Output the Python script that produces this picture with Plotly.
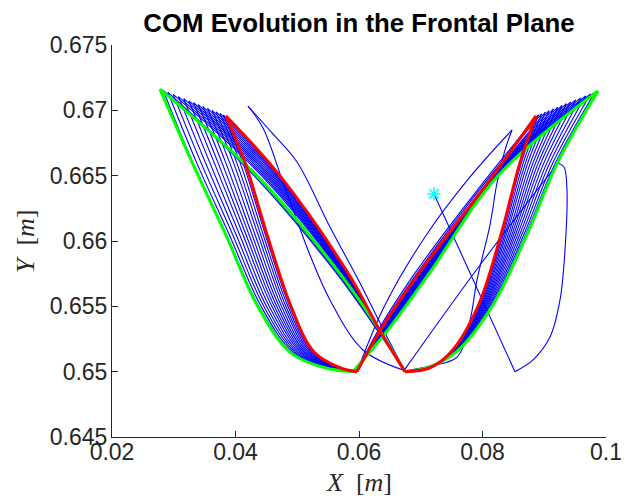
import plotly.graph_objects as go

# y levels where the curved (swing) and the straight (diagonal) parts are sampled
curve_y = [0.6660, 0.6605, 0.6550, 0.6515, 0.6503]
diag_y = [0.6650, 0.6575, 0.6530]
bottom_y = 0.6500

# green cycle (outermost)
green_tip_l = [0.02777, 0.67163]
green_left = [0.03300, 0.03840, 0.04360, 0.04883, 0.05449]
green_bl = 0.05900
green_bs = [0.04348, 0.05692, 0.06356]
green_tip_r = [0.09871, 0.67148]
green_right = [0.09215, 0.08721, 0.08154, 0.07571, 0.07101]
green_br = 0.06745
green_fs = [0.08251, 0.07134, 0.06437]

# red cycle (innermost)
red_tip_l = [0.03846, 0.66957]
red_left = [0.04154, 0.04510, 0.04899, 0.05271, 0.05692]
red_bl = 0.05968
red_bs = [0.04717, 0.05827, 0.06356]
red_tip_r = [0.08866, 0.66957]
red_right = [0.08607, 0.08300, 0.07927, 0.07490, 0.07150]
red_br = 0.06745
red_fs = [0.08170, 0.06965, 0.06324]

# blue cycles between them
blue_tip_l_x = [0.03803, 0.03750, 0.03686, 0.03622, 0.03547, 0.03472, 0.03397,
                0.03322, 0.03247, 0.03162, 0.03076, 0.02991, 0.02905, 0.02831]
blue_tip_l_y = [0.66965, 0.66976, 0.66988, 0.67000, 0.67015, 0.67029, 0.67044,
                0.67058, 0.67072, 0.67089, 0.67105, 0.67122, 0.67138, 0.67153]
blue_left = [
    [0.04118, 0.04482, 0.04877, 0.05256, 0.05682],
    [0.04074, 0.04447, 0.04849, 0.05236, 0.05670],
    [0.04020, 0.04406, 0.04816, 0.05213, 0.05656],
    [0.03967, 0.04364, 0.04783, 0.05190, 0.05641],
    [0.03905, 0.04315, 0.04745, 0.05162, 0.05624],
    [0.03842, 0.04266, 0.04706, 0.05135, 0.05607],
    [0.03780, 0.04218, 0.04668, 0.05108, 0.05590],
    [0.03717, 0.04169, 0.04629, 0.05081, 0.05573],
    [0.03655, 0.04120, 0.04590, 0.05054, 0.05556],
    [0.03584, 0.04065, 0.04546, 0.05023, 0.05537],
    [0.03513, 0.04009, 0.04502, 0.04992, 0.05517],
    [0.03441, 0.03953, 0.04458, 0.04961, 0.05498],
    [0.03370, 0.03898, 0.04414, 0.04930, 0.05478],
    [0.03308, 0.03849, 0.04376, 0.04902, 0.05461],
]
blue_bl = [0.05967, 0.05964, 0.05960, 0.05955, 0.05950, 0.05946, 0.05941,
           0.05936, 0.05931, 0.05925, 0.05920, 0.05914, 0.05908, 0.05904]
blue_bs = [
    [0.04702, 0.05822, 0.06356],
    [0.04684, 0.05815, 0.06350],
    [0.04662, 0.05807, 0.06356],
    [0.04640, 0.05799, 0.06350],
    [0.04614, 0.05789, 0.06345],
    [0.04588, 0.05780, 0.06356],
    [0.04562, 0.05770, 0.06350],
    [0.04536, 0.05761, 0.06345],
    [0.04510, 0.05751, 0.06356],
    [0.04481, 0.05741, 0.06350],
    [0.04451, 0.05730, 0.06345],
    [0.04422, 0.05719, 0.06340],
    [0.04330, 0.05660, 0.06330],
    [0.04300, 0.05640, 0.06320],
]
blue_br = [0.06745, 0.06745, 0.06748, 0.06745, 0.06742, 0.06745, 0.06748,
           0.06745, 0.06742, 0.06745, 0.06748, 0.06745, 0.06742, 0.06745]
blue_tip_r_x = [0.08906, 0.08956, 0.09017, 0.09077, 0.09147, 0.09218, 0.09288,
                0.09358, 0.09429, 0.09509, 0.09590, 0.09670, 0.09750, 0.09821]
blue_tip_r_y = [0.66965, 0.66974, 0.66986, 0.66997, 0.67011, 0.67024, 0.67037,
                0.67051, 0.67064, 0.67079, 0.67095, 0.67110, 0.67125, 0.67138]
blue_right = [
    [0.08631, 0.08317, 0.07936, 0.07493, 0.07148],
    [0.08662, 0.08338, 0.07947, 0.07497, 0.07146],
    [0.08698, 0.08363, 0.07961, 0.07502, 0.07143],
    [0.08735, 0.08388, 0.07975, 0.07507, 0.07140],
    [0.08777, 0.08418, 0.07991, 0.07513, 0.07136],
    [0.08820, 0.08447, 0.08006, 0.07518, 0.07133],
    [0.08862, 0.08477, 0.08022, 0.07524, 0.07129],
    [0.08905, 0.08506, 0.08038, 0.07530, 0.07126],
    [0.08948, 0.08536, 0.08054, 0.07535, 0.07123],
    [0.08996, 0.08569, 0.08072, 0.07542, 0.07119],
    [0.09045, 0.08603, 0.08090, 0.07548, 0.07115],
    [0.09093, 0.08637, 0.08109, 0.07555, 0.07111],
    [0.09142, 0.08671, 0.08127, 0.07561, 0.07107],
    [0.09185, 0.08700, 0.08143, 0.07567, 0.07103],
]
blue_fs = [
    [0.08100, 0.06900, 0.06290],
    [0.08130, 0.06935, 0.06310],
    [0.08182, 0.06990, 0.06341],
    [0.08187, 0.07000, 0.06348],
    [0.08193, 0.07012, 0.06356],
    [0.08198, 0.07024, 0.06364],
    [0.08204, 0.07036, 0.06371],
    [0.08210, 0.07048, 0.06379],
    [0.08215, 0.07060, 0.06387],
    [0.08222, 0.07073, 0.06396],
    [0.08228, 0.07087, 0.06405],
    [0.08235, 0.07100, 0.06414],
    [0.08241, 0.07114, 0.06423],
    [0.08247, 0.07126, 0.06431],
]

# start-up transient (blue), piece by piece
start_x, start_y = 0.07215, 0.66360
trans_x = [
    [0.07215, 0.08526],
    [0.08526, 0.08818, 0.09093, 0.09255, 0.09336, 0.09368, 0.09320, 0.09223],
    [0.09223, 0.07960, 0.06730],
    [0.06730, 0.06065, 0.05530, 0.05206, 0.04769, 0.04445, 0.04202],
    [0.04202, 0.04591, 0.04996, 0.05530, 0.06016, 0.06421, 0.06745],
    [0.06745, 0.07150, 0.07587, 0.07798, 0.07911, 0.08121, 0.08235, 0.08364, 0.08478],
    [0.08478, 0.07798, 0.07069, 0.06421, 0.05968],
]
trans_y = [
    [0.66360, 0.65000],
    [0.65000, 0.65090, 0.65265, 0.65549, 0.65931, 0.66390, 0.66566, 0.66597],
    [0.66597, 0.65816, 0.65010],
    [0.65010, 0.65166, 0.65549, 0.65893, 0.66452, 0.66865, 0.67033],
    [0.67033, 0.66827, 0.66605, 0.66107, 0.65679, 0.65296, 0.65005],
    [0.65005, 0.65043, 0.65112, 0.65395, 0.65702, 0.66122, 0.66444, 0.66696, 0.66850],
    [0.66850, 0.66490, 0.66031, 0.65510, 0.65000],
]


def cycle_segments(tip_l, left, bl, bs, tip_r, right, br, fs):
    segs = [
        ([tip_l[0]] + left + [bl], [tip_l[1]] + curve_y + [bottom_y]),
        ([tip_l[0]] + bs + [br], [tip_l[1]] + diag_y + [bottom_y]),
        ([tip_r[0]] + right + [br], [tip_r[1]] + curve_y + [bottom_y]),
        ([tip_r[0]] + fs + [bl], [tip_r[1]] + diag_y + [bottom_y]),
    ]
    return segs


def join(segs):
    xs, ys = [], []
    for sx, sy in segs:
        xs += list(sx) + [None]
        ys += list(sy) + [None]
    return xs, ys


blue_segs = list(zip(trans_x, trans_y))
for i in range(len(blue_tip_l_x)):
    blue_segs += cycle_segments(
        [blue_tip_l_x[i], blue_tip_l_y[i]], blue_left[i], blue_bl[i], blue_bs[i],
        [blue_tip_r_x[i], blue_tip_r_y[i]], blue_right[i], blue_br[i], blue_fs[i],
    )

green_segs = cycle_segments(green_tip_l, green_left, green_bl, green_bs,
                            green_tip_r, green_right, green_br, green_fs)
red_segs = cycle_segments(red_tip_l, red_left, red_bl, red_bs,
                          red_tip_r, red_right, red_br, red_fs)

fig = go.Figure()

bx, by = join(blue_segs)
fig.add_trace(go.Scatter(x=bx, y=by, mode="lines", connectgaps=False,
                         line=dict(color="#0000ff", width=1.1, shape="spline", smoothing=1)))

gx, gy = join(green_segs)
fig.add_trace(go.Scatter(x=gx, y=gy, mode="lines", connectgaps=False,
                         line=dict(color="#00ff00", width=3, shape="spline", smoothing=1)))

rx, ry = join(red_segs)
fig.add_trace(go.Scatter(x=rx, y=ry, mode="lines", connectgaps=False,
                         line=dict(color="#ff0000", width=3, shape="spline", smoothing=1)))

fig.add_trace(go.Scatter(x=[start_x], y=[start_y], mode="markers",
                         marker=dict(symbol="asterisk-open", size=11, color="#00ffff",
                                     line=dict(color="#00ffff", width=1.5))))

tick_font = dict(family="Liberation Sans, Arial, sans-serif", size=23, color="#262626")
label_font = dict(family="Liberation Serif, Times New Roman, serif", size=26, color="#262626")

# the page body adds an 8 px offset, so the figure is 8 px smaller than the window
fig.update_layout(
    width=621,
    height=490,
    margin=dict(l=104, r=23, t=37, b=61),
    plot_bgcolor="white",
    paper_bgcolor="white",
    showlegend=False,
    title=dict(
        text="<b>COM Evolution in the Frontal Plane</b>",
        x=0.5, xref="paper", xanchor="center",
        y=1 - 15 / 490, yref="container", yanchor="middle",
        font=dict(family="Liberation Sans, Arial, sans-serif", size=25.8, color="#000000"),
    ),
    xaxis=dict(
        range=[0.02, 0.1],
        tickvals=[0.02, 0.04, 0.06, 0.08, 0.1],
        ticktext=["0.02", "0.04", "0.06", "0.08", "0.1"],
        ticks="inside", ticklen=6, tickwidth=1, tickcolor="#262626",
        showline=True, linecolor="#262626", linewidth=1, mirror=False,
        showgrid=False, zeroline=False, automargin=False,
        tickfont=tick_font,
        ticklabelstandoff=-6,
    ),
    yaxis=dict(
        range=[0.645, 0.675],
        tickvals=[0.645, 0.65, 0.655, 0.66, 0.665, 0.67, 0.675],
        ticktext=["0.645", "0.65", "0.655", "0.66", "0.665", "0.67", "0.675"],
        ticks="inside", ticklen=6, tickwidth=1, tickcolor="#262626",
        showline=True, linecolor="#262626", linewidth=1, mirror=False,
        showgrid=False, zeroline=False, automargin=False,
        tickfont=tick_font,
        ticklabelstandoff=-1,
    ),
    annotations=[
        dict(text="<i>X</i>  [<i>m</i>]", x=0.5, y=-0.117, xref="paper", yref="paper",
             xanchor="center", yanchor="middle", showarrow=False, font=label_font),
        dict(text="<i>Y</i>  [<i>m</i>]", x=-0.176, y=0.5, xref="paper", yref="paper",
             xanchor="center", yanchor="middle", textangle=-90, showarrow=False,
             font=label_font),
    ],
)

fig.write_html("out.html")
